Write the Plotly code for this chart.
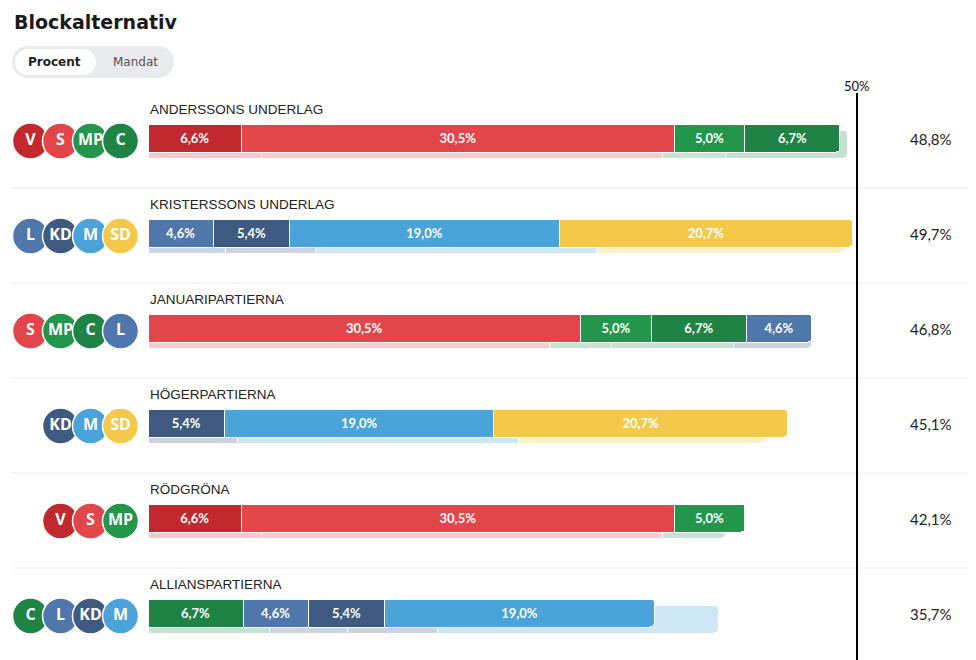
import plotly.graph_objects as go

# Valresultat 2022 (procent) och 2018 (skuggstapel)
parties = ["V", "S", "MP", "C", "L", "KD", "M", "SD"]
result_2022 = [6.6, 30.5, 5.0, 6.7, 4.6, 5.4, 19.0, 20.7]
result_2018 = [8.0, 28.3, 4.4, 8.6, 5.5, 6.3, 19.8, 17.5]

blocks = ["ANDERSSONS UNDERLAG", "KRISTERSSONS UNDERLAG", "JANUARIPARTIERNA",
          "HÖGERPARTIERNA", "RÖDGRÖNA", "ALLIANSPARTIERNA"]
block_parties = [["V", "S", "MP", "C"], ["L", "KD", "M", "SD"], ["S", "MP", "C", "L"],
                 ["KD", "M", "SD"], ["V", "S", "MP"], ["C", "L", "KD", "M"]]

party_colors = {"V": "#c1292f", "S": "#e2454a", "MP": "#24964b", "C": "#1f8346",
                "L": "#5077ab", "KD": "#3f5a80", "M": "#4aa3d9", "SD": "#f4c94a"}
shadow_colors = {"V": "#f6c8cb", "S": "#f8cacd", "MP": "#c6e4d1", "C": "#c4e2cf",
                 "L": "#cbd4e3", "KD": "#cdd2de", "M": "#cfe6f6", "SD": "#fcf0cb"}

PAGE_W, PAGE_H = 976, 660
BODY = 8                          # browser body margin
W, H = PAGE_W - BODY, PAGE_H - BODY
BAR_X0 = 148            # page pixel where 0 % starts
PX_PER_PCT = 709 / 50   # 50 % line sits at x=857
ROW0 = 138              # centre of first bar, page px
ROW_STEP = 95
BAR_H = 28
SHADOW_DROP = 6

vote = dict(zip(parties, result_2022))
prev = dict(zip(parties, result_2018))


def fmt(v):
    return f"{v:.1f}".replace(".", ",") + "%"


def px(x):
    return (x - BODY) / W


def py(y):
    return 1 - (y - BODY) / H


def pill(x0, y0, x1, y1, r):
    k = 0.5523 * r
    return (f"M{px(x0 + r)},{py(y0)} L{px(x1 - r)},{py(y0)} "
            f"C{px(x1 - r + k)},{py(y0)} {px(x1)},{py(y0 + r - k)} {px(x1)},{py(y0 + r)} "
            f"L{px(x1)},{py(y1 - r)} "
            f"C{px(x1)},{py(y1 - r + k)} {px(x1 - r + k)},{py(y1)} {px(x1 - r)},{py(y1)} "
            f"L{px(x0 + r)},{py(y1)} "
            f"C{px(x0 + r - k)},{py(y1)} {px(x0)},{py(y1 - r + k)} {px(x0)},{py(y1 - r)} "
            f"L{px(x0)},{py(y0 + r)} "
            f"C{px(x0)},{py(y0 + r - k)} {px(x0 + r - k)},{py(y0)} {px(x0 + r)},{py(y0)} Z")


fig = go.Figure()
bw = BAR_H / ROW_STEP

# skuggstaplar (2018) bakom
for p in parties:
    rows = [i for i, bp in enumerate(block_parties) if p in bp]
    fig.add_trace(go.Bar(
        orientation="h",
        y=[i + SHADOW_DROP / ROW_STEP for i in rows],
        x=[prev[p] for i in rows],
        width=bw, offset=-bw / 2,
        marker=dict(color=shadow_colors[p], line=dict(color="white", width=1)),
        hoverinfo="skip", showlegend=False))

# staplar 2022
for p in parties:
    rows = [i for i, bp in enumerate(block_parties) if p in bp]
    fig.add_trace(go.Bar(
        orientation="h",
        y=rows,
        x=[vote[p] for i in rows],
        width=bw, offset=-bw / 2,
        text=[fmt(vote[p]) for i in rows],
        textposition="inside", insidetextanchor="middle", textangle=0,
        textfont=dict(family="Lato", size=13, color="white", weight="bold"),
        marker=dict(color=party_colors[p], line=dict(color="white", width=1)),
        hoverinfo="skip", showlegend=False))

# partisymboler, en trace per plats så att de överlappar från vänster till höger
for s in range(4):
    xs, ys, cols, labels = [], [], [], []
    for i, bp in enumerate(block_parties):
        k = s - (4 - len(bp))
        if k >= 0:
            xs.append(30.5 + 30 * s)
            ys.append(i + 3 / ROW_STEP)
            cols.append(party_colors[bp[k]])
            labels.append(bp[k])
    fig.add_trace(go.Scatter(
        x=xs, y=ys, xaxis="x2", mode="markers+text",
        text=labels, textposition="middle center",
        textfont=dict(family="Open Sans", size=16, color="white", weight="bold"),
        marker=dict(size=36, color=cols, line=dict(color="white", width=1.5)),
        hoverinfo="skip", showlegend=False))

annotations = []
for i, name in enumerate(blocks):
    annotations.append(dict(
        x=0, y=i, xref="x", yref="y", text=name, showarrow=False,
        xanchor="left", yanchor="middle", yshift=28.5,
        font=dict(family="Liberation Sans", size=13.5, color="#222")))
    total = round(sum(vote[p] for p in block_parties[i]), 1)
    annotations.append(dict(
        x=px(931), y=i, xref="paper", yref="y", text=fmt(total), showarrow=False,
        xanchor="center", yanchor="middle", yshift=-1,
        font=dict(family="Lato", size=15, color="#222")))

annotations += [
    dict(x=50, y=py(86), xref="x", yref="paper", text="50%", showarrow=False,
         xanchor="center", yanchor="middle", font=dict(family="Lato", size=13, color="#111")),
    dict(x=px(12), y=py(22), xref="paper", yref="paper", text="<b>Blockalternativ</b>",
         showarrow=False, xanchor="left", yanchor="middle",
         font=dict(family="DejaVu Sans", size=19, color="#1a1a1a")),
    dict(x=px(54), y=py(62), xref="paper", yref="paper", text="<b>Procent</b>",
         showarrow=False, xanchor="center", yanchor="middle",
         font=dict(family="DejaVu Sans", size=12, color="#222")),
    dict(x=px(135), y=py(62), xref="paper", yref="paper", text="Mandat",
         showarrow=False, xanchor="center", yanchor="middle",
         font=dict(family="DejaVu Sans", size=12, color="#555")),
]

shapes = [
    dict(type="path", xref="paper", yref="paper", path=pill(12, 46, 174, 78, 16),
         fillcolor="#e8eaed", line=dict(width=0), layer="below"),
    dict(type="path", xref="paper", yref="paper", path=pill(15, 49, 96, 75, 13),
         fillcolor="white", line=dict(width=0), layer="below"),
    dict(type="line", xref="x", yref="paper", x0=50, x1=50, y0=py(93), y1=0,
         line=dict(color="black", width=2)),
]
for i in range(len(blocks) - 1):
    yy = i + 50 / ROW_STEP
    shapes.append(dict(type="line", xref="paper", yref="y", x0=px(12), x1=px(972),
                       y0=yy, y1=yy, line=dict(color="#ebebeb", width=1), layer="below"))

fig.update_layout(
    width=W, height=H,
    margin=dict(l=0, r=0, t=0, b=0),
    paper_bgcolor="white", plot_bgcolor="white",
    barmode="stack", barcornerradius=4,
    xaxis=dict(range=[-(BAR_X0 - BODY) / PX_PER_PCT, (PAGE_W - BAR_X0) / PX_PER_PCT],
               visible=False, fixedrange=True),
    xaxis2=dict(range=[BODY, PAGE_W], overlaying="x", visible=False, fixedrange=True),
    yaxis=dict(range=[(PAGE_H - ROW0) / ROW_STEP, -(ROW0 - BODY) / ROW_STEP],
               visible=False, fixedrange=True),
    shapes=shapes, annotations=annotations,
)

fig.write_html("out.html")
